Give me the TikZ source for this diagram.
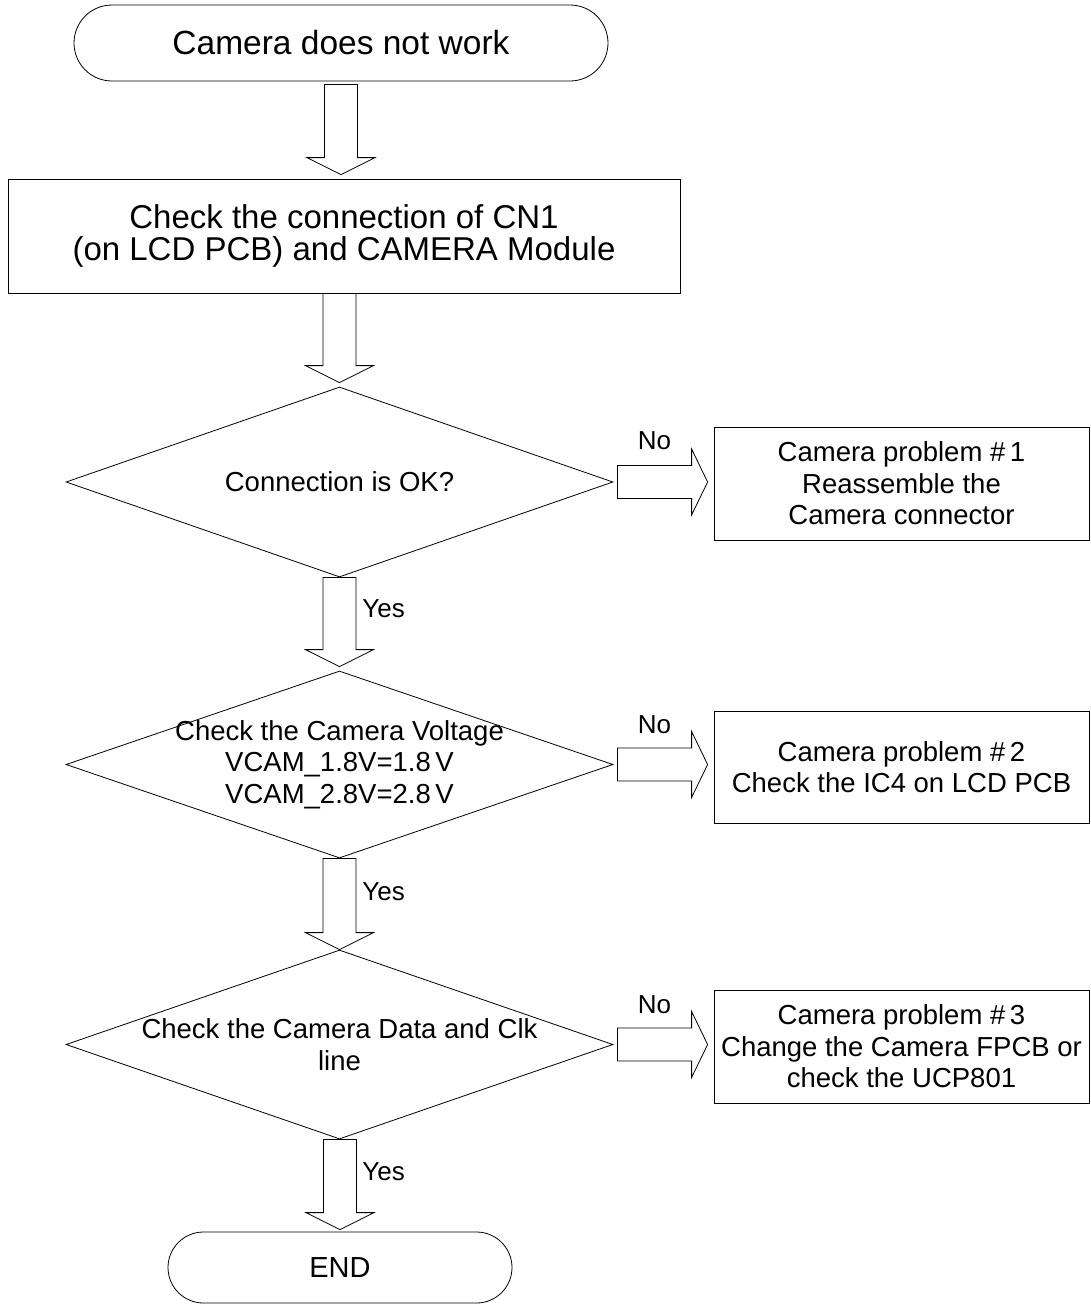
\documentclass[tikz,border=0pt]{standalone}
\usepackage{fontspec}
\setmainfont{Liberation Sans}
\usetikzlibrary{shapes.geometric,calc}
\newcommand\blockdown[2]{\draw[blk] let \p1=(#1), \p2=(#2) in
  (\x2-16.5pt,\y1) -- (\x2+16.5pt,\y1) -- (\x2+16.5pt,\y2+17pt) -- (\x2+34pt,\y2+17pt)
  -- (\x2,\y2) -- (\x2-34pt,\y2+17pt) -- (\x2-16.5pt,\y2+17pt) -- cycle;}
\newcommand\blockright[2]{\draw[blk] let \p1=(#1), \p2=(#2) in
  (\x1,\y1+16.5pt) -- (\x2-16pt,\y1+16.5pt) -- (\x2-16pt,\y1+33pt) -- (\x2,\y1)
  -- (\x2-16pt,\y1-33pt) -- (\x2-16pt,\y1-16.5pt) -- (\x1,\y1-16.5pt) -- cycle;}
\begin{document}
\begin{tikzpicture}[x=1pt,y=-1pt,line width=0.8pt,
  every node/.style={align=center,inner sep=0pt,font=\fontsize{27.5pt}{31.5pt}\selectfont},
  termbox/.style={draw,rectangle},
  procbox/.style={draw,rectangle},
  dia/.style={draw,diamond,inner sep=0pt,minimum width=547pt},
  lbl/.style={font=\fontsize{26pt}{30pt}\selectfont},
  blk/.style={draw=black,fill=white,line width=0.8pt,line join=miter}]
\fill[white] (0,0) rectangle (1090,1304);
\useasboundingbox (0,0) rectangle (1090,1304);

% main column
\node[termbox,minimum width=534pt,minimum height=76pt,rounded corners=38pt,
      font=\fontsize{33.5pt}{37pt}\selectfont] (start) at (341,43) {Camera does not work};
\node[procbox,minimum width=672pt,minimum height=114pt,
      font=\fontsize{33pt}{31.5pt}\selectfont] (check) at (344,236)
      {Check the connection of CN1\\(on LCD PCB) and CAMERA Module};
\node[dia,minimum height=190pt] (d1) at (339.5,482) {};
\node (d1t) at (d1) {Connection is OK?};
\node[dia,minimum height=187pt] (d2) at (339.5,764.5) {};
\node (d2t) at (d2) {Check the Camera Voltage\\VCAM\_1.8V=1.8\,V\\VCAM\_2.8V=2.8\,V};
\node[dia,minimum height=189pt] (d3) at (339.5,1044.5) {};
\node (d3t) at (d3) {Check the Camera Data and Clk\\line};
\node[termbox,minimum width=344pt,minimum height=71pt,rounded corners=35.5pt,
      font=\fontsize{29pt}{33pt}\selectfont] (end) at (340,1267.5) {END};

% problem boxes
\node[procbox,minimum width=375pt,minimum height=113pt] (p1) at (901.5,483.5)
      {Camera problem \#\,1\\Reassemble the\\Camera connector};
\node[procbox,minimum width=375pt,minimum height=112pt] (p2) at (901.5,767)
      {Camera problem \#\,2\\Check the IC4 on LCD PCB};
\node[procbox,minimum width=375pt,minimum height=113pt] (p3) at (901.5,1046.5)
      {Camera problem \#\,3\\Change the Camera FPCB or\\check the UCP801};

% block arrows down
\blockdown{$(start.south)+(0,3)$}{$(check.north -| start.south)+(0,-4)$}
\blockdown{check.south -| d1.north}{$(d1.north)+(0,-4)$}
\blockdown{d1.south}{$(d2.north)+(0,-4)$}
\blockdown{d2.south}{d3.north}
\blockdown{d3.south}{$(end.north)+(0,-2)$}

% block arrows right
\blockright{$(d1.east)+(4,0)$}{$(p1.west)+(-6,0)$}
\blockright{$(d2.east)+(4,0)$}{$(p2.west)+(-6,0)$}
\blockright{$(d3.east)+(4,0)$}{$(p3.west)+(-6,0)$}

% labels
\node[lbl,anchor=base] (no1) at (654.5,449) {No};
\node[lbl,anchor=base] (no2) at (654.5,733) {No};
\node[lbl,anchor=base] (no3) at (654.5,1013) {No};
\node[lbl,anchor=base west] (yes1) at (362,617) {Yes};
\node[lbl,anchor=base west] (yes2) at (362,900) {Yes};
\node[lbl,anchor=base west] (yes3) at (362,1180) {Yes};
\end{tikzpicture}
\end{document}
